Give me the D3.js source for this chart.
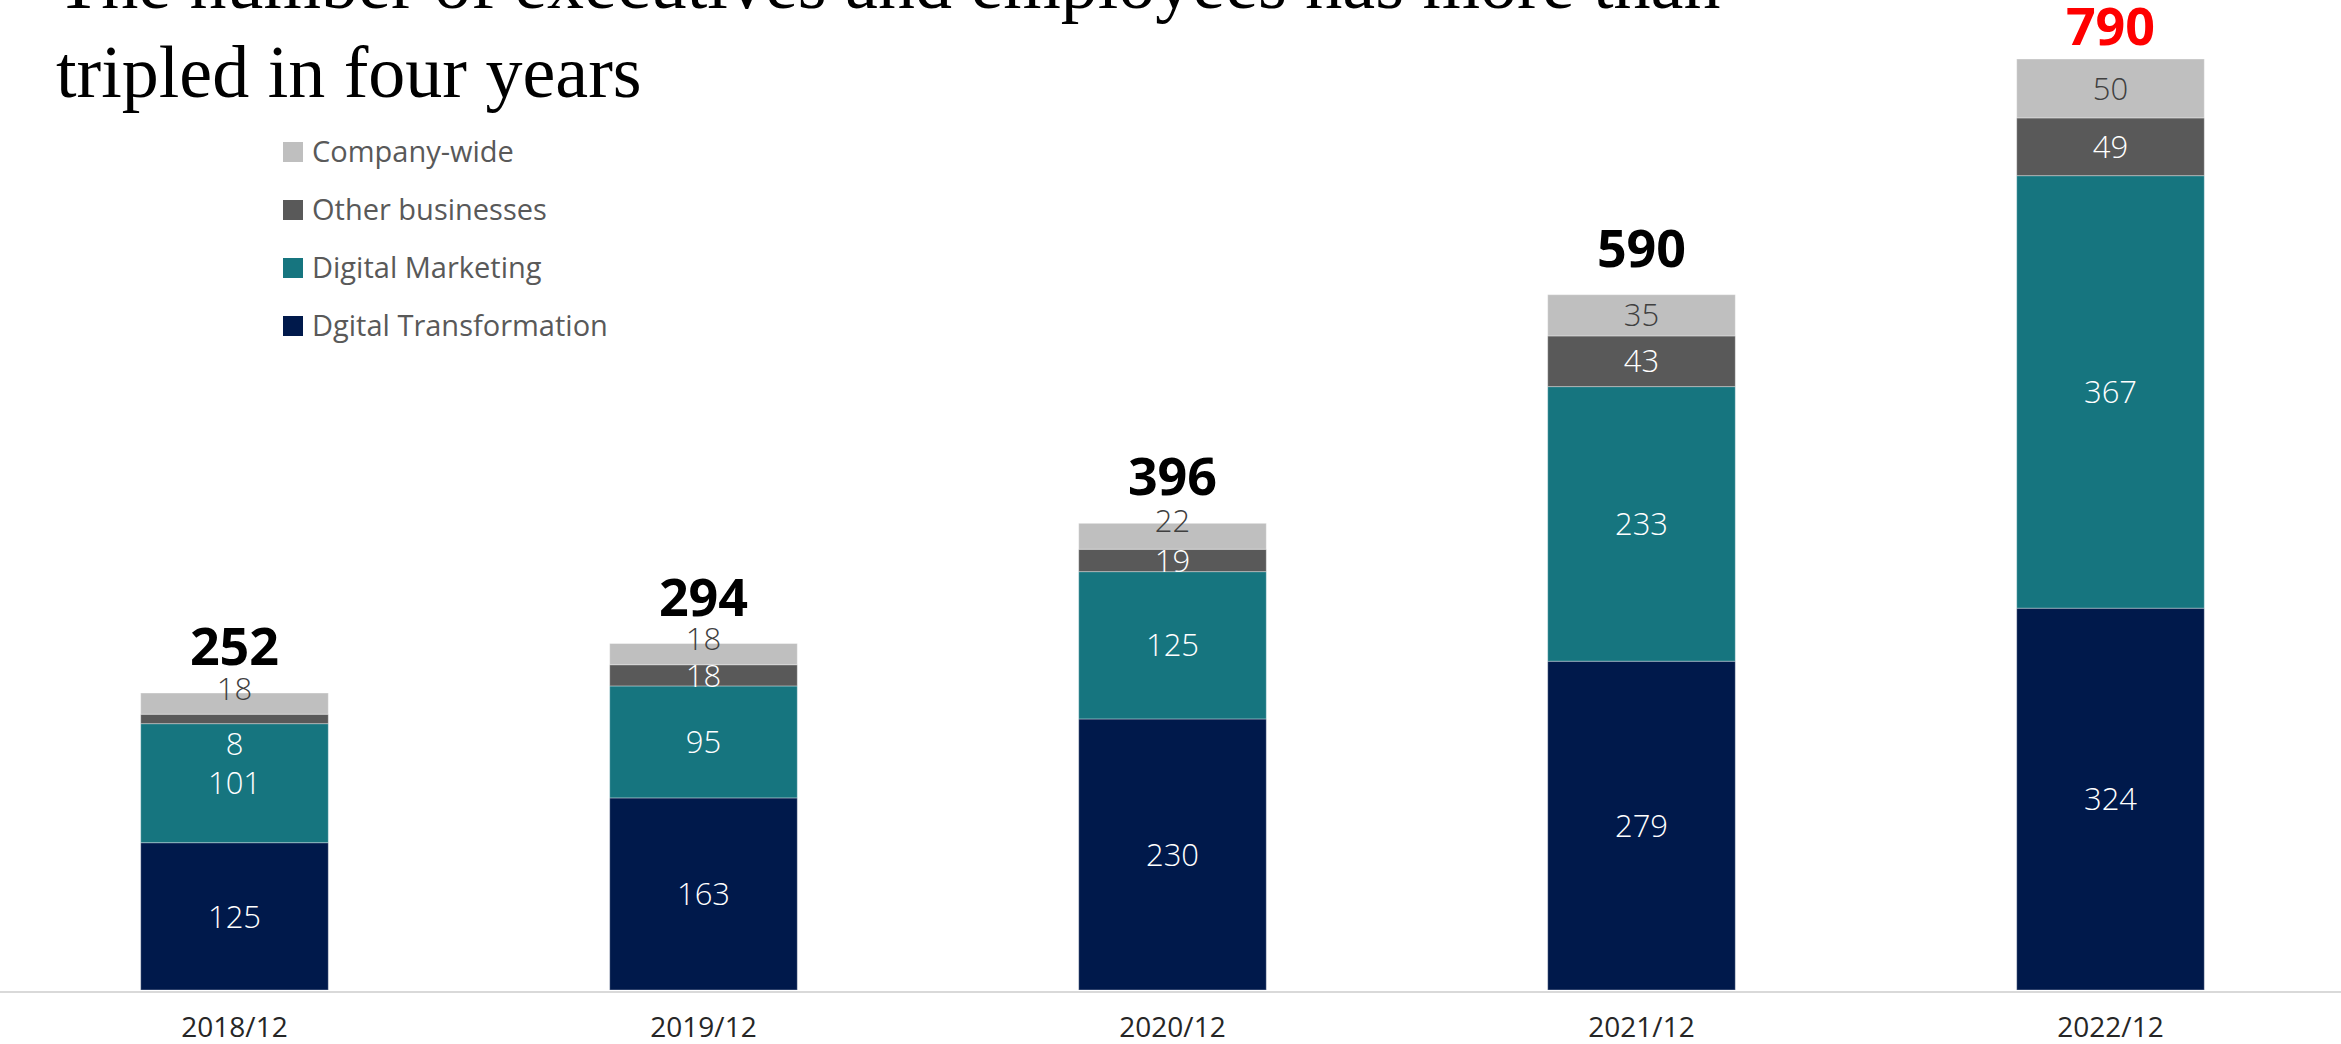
<!DOCTYPE html>
<html lang="en">
<head>
    <meta charset="UTF-8">
    <title>executives and employees</title>
    <script src="https://d3js.org/d3.v7.min.js"></script>
    <style>
        body { margin: 0; background: #fff; }
        svg { display: block; }
    </style>
</head>
<body>
    <svg></svg>
    <script>
        // values
        const years = ['2018/12', '2019/12', '2020/12', '2021/12', '2022/12'];
        const digitalTransformation = [125, 163, 230, 279, 324];
        const digitalMarketing = [101, 95, 125, 233, 367];
        const otherBusinesses = [8, 18, 19, 43, 49];
        const companyWide = [18, 18, 22, 35, 50];
        const totals = [252, 294, 396, 590, 790];

        const seriesNames = ['Dgital Transformation', 'Digital Marketing', 'Other businesses', 'Company-wide'];
        const seriesColors = ['#00194b', '#16757f', '#595959', '#bfbfbf'];
        const labelColors = ['#ffffff', '#ffffff', '#ffffff', '#404040'];

        const svgWidth = 2341;
        const svgHeight = 1044;
        const baseY = 990;

        const svg = d3.select('svg')
            .attr('width', svgWidth)
            .attr('height', svgHeight);

        // rows for the stack
        const keys = ['dt', 'dm', 'ob', 'cw'];
        const rows = years.map((y, i) => ({
            year: y,
            dt: digitalTransformation[i],
            dm: digitalMarketing[i],
            ob: otherBusinesses[i],
            cw: companyWide[i],
            total: totals[i]
        }));
        const stacked = d3.stack().keys(keys)(rows);

        const x = d3.scaleBand()
            .domain(years)
            .range([0, 2345])
            .paddingInner(0.6)
            .paddingOuter(0.3);

        const y = d3.scaleLinear()
            .domain([0, 790])
            .range([baseY, 59]);

        // bars
        const layers = svg.append('g')
            .selectAll('g')
            .data(stacked)
            .join('g')
            .attr('fill', (d, i) => seriesColors[i]);

        layers.selectAll('rect')
            .data(d => d)
            .join('rect')
            .attr('x', d => x(d.data.year))
            .attr('y', d => y(d[1]))
            .attr('width', x.bandwidth())
            .attr('height', d => y(d[0]) - y(d[1]))
            .attr('stroke', 'rgba(255,255,255,0.35)')
            .attr('stroke-width', 1);

        // axis line
        svg.append('line')
            .attr('x1', 0)
            .attr('x2', svgWidth)
            .attr('y1', baseY + 2)
            .attr('y2', baseY + 2)
            .attr('stroke', '#d9d9d9')
            .attr('stroke-width', 2);

        // category labels
        svg.append('g')
            .selectAll('text')
            .data(years)
            .join('text')
            .attr('x', d => x(d) + x.bandwidth() / 2)
            .attr('y', 1037)
            .attr('text-anchor', 'middle')
            .attr('font-family', '"Open Sans", sans-serif')
            .attr('font-size', 28)
            .attr('fill', '#262626')
            .text(d => d);

        // segment labels; thin segments get nudged so the numbers stay readable
        stacked.forEach((layer, li) => {
            svg.append('g')
                .selectAll('text')
                .data(layer)
                .join('text')
                .attr('x', d => x(d.data.year) + x.bandwidth() / 2)
                .attr('y', d => {
                    const top = y(d[1]);
                    const bottom = y(d[0]);
                    const h = bottom - top;
                    if (li === 3 && h < 30) return top + h / 2 - 15;
                    if (li === 2 && h < 15) return bottom + 20;
                    return top + h / 2;
                })
                .attr('dy', '0.36em')
                .attr('text-anchor', 'middle')
                .attr('font-family', '"Open Sans", sans-serif')
                .attr('font-weight', 300)
                .attr('font-size', 31)
                .attr('fill', labelColors[li])
                .text(d => d.data[keys[li]]);
        });

        // totals above the bars, kept inside the picture
        svg.append('g')
            .selectAll('text')
            .data(rows)
            .join('text')
            .attr('x', d => x(d.year) + x.bandwidth() / 2)
            .attr('y', d => Math.max(y(d.total) - 28, 45))
            .attr('text-anchor', 'middle')
            .attr('font-family', '"Open Sans", sans-serif')
            .attr('font-weight', 700)
            .attr('font-size', 52)
            .attr('fill', (d, i) => i === rows.length - 1 ? '#ff0000' : '#000000')
            .text(d => d.total);

        // legend, top item first
        const legendOrder = [3, 2, 1, 0];
        const legend = svg.append('g')
            .selectAll('g')
            .data(legendOrder)
            .join('g')
            .attr('transform', (d, i) => `translate(283, ${152 + i * 58})`);

        legend.append('rect')
            .attr('x', 0)
            .attr('y', -10)
            .attr('width', 20)
            .attr('height', 20)
            .attr('fill', d => seriesColors[d]);

        legend.append('text')
            .attr('x', 29)
            .attr('y', 0)
            .attr('dy', '0.36em')
            .attr('font-family', '"Open Sans", sans-serif')
            .attr('font-size', 29)
            .attr('fill', '#595959')
            .text(d => seriesNames[d]);

        // title (first line runs off the top edge, as in the original)
        const title = svg.append('text')
            .attr('font-family', '"Liberation Serif", "Times New Roman", serif')
            .attr('font-size', 74)
            .attr('fill', '#000');
        title.append('tspan').attr('x', 56).attr('y', 8)
            .text('The number of executives and employees has more than');
        title.append('tspan').attr('x', 56).attr('y', 97)
            .text('tripled in four years');
    </script>
</body>
</html>
